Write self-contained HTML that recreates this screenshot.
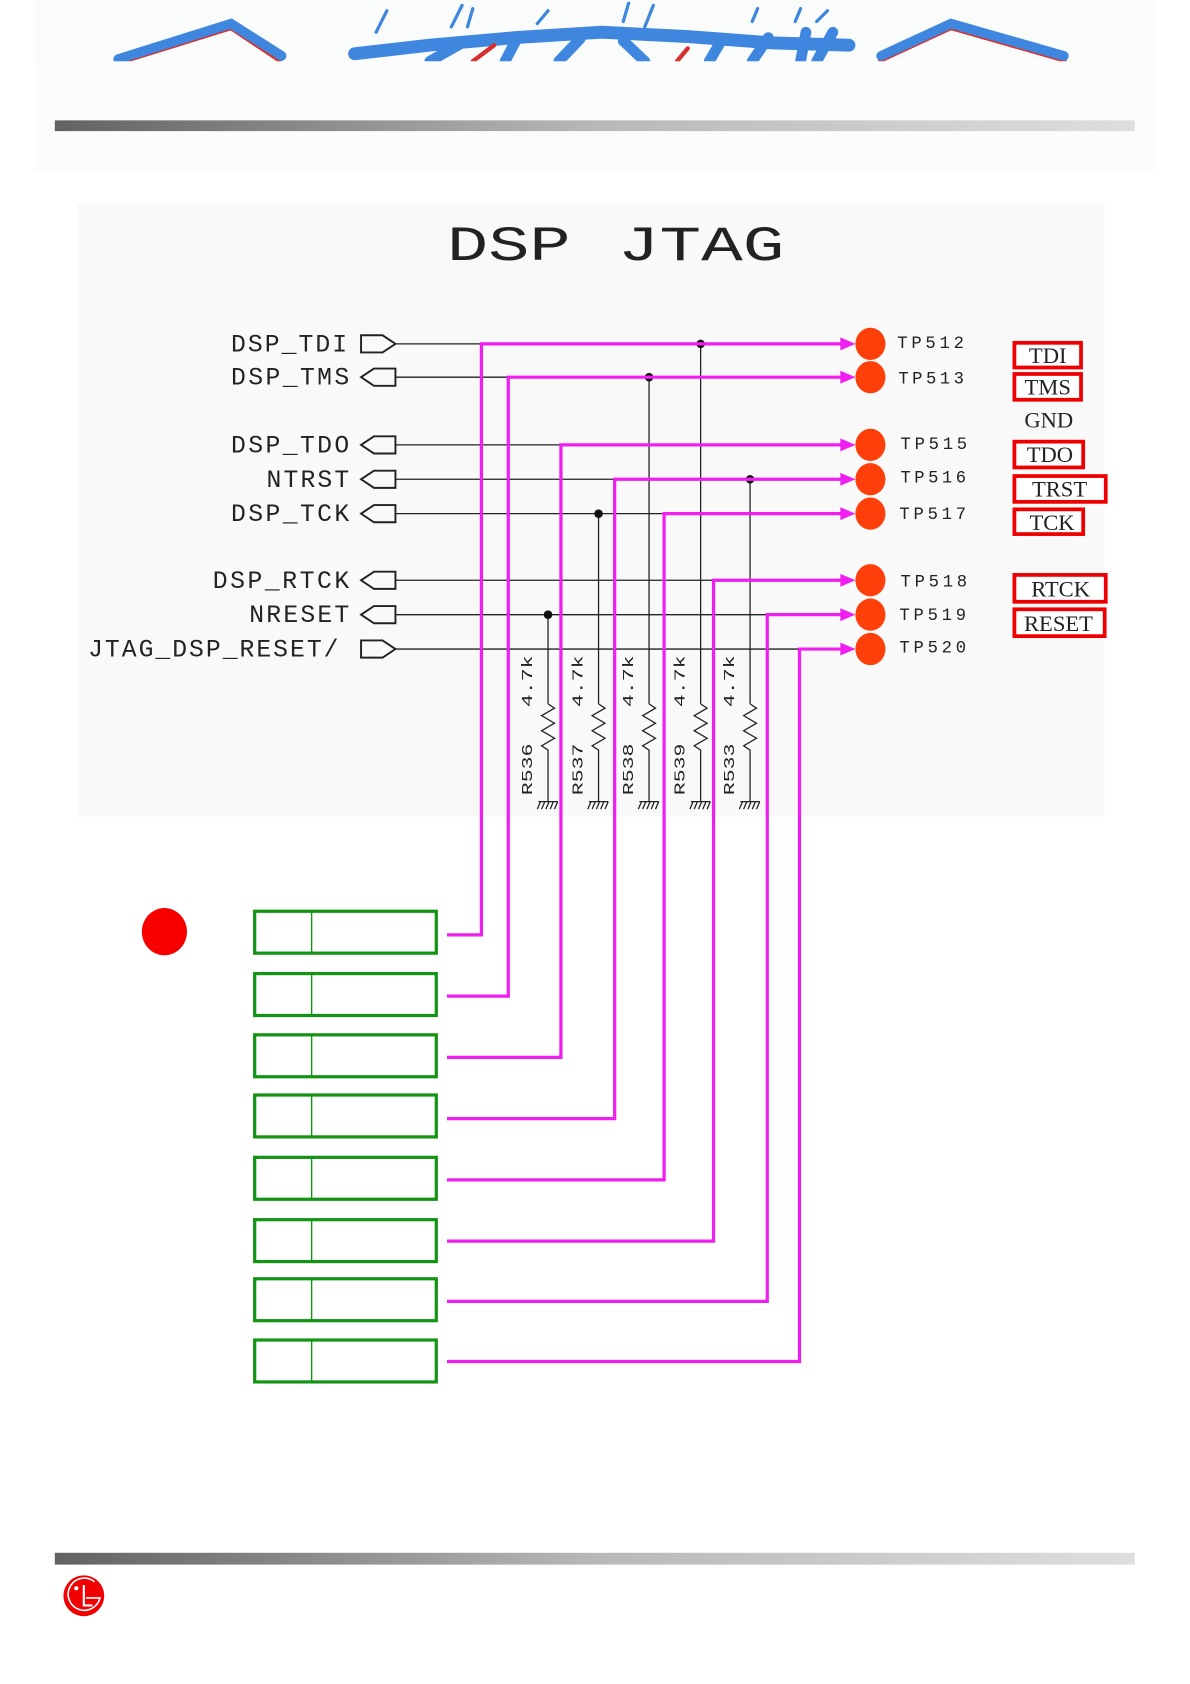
<!DOCTYPE html>
<html><head><meta charset="utf-8"><style>
html,body{margin:0;padding:0;background:#fff;}
svg{display:block;}
text{font-family:"Liberation Mono",monospace;fill:#222;}
</style></head><body>
<svg width="1190" height="1684" viewBox="0 0 1107.4 1567.1" preserveAspectRatio="none" xmlns="http://www.w3.org/2000/svg">
<defs>
<linearGradient id="g" x1="0" x2="1" y1="0" y2="0">
<stop offset="0" stop-color="#626262"/><stop offset="0.5" stop-color="#b8b8b8"/><stop offset="1" stop-color="#dedede"/>
</linearGradient>
</defs>
<rect x="32" y="0" width="1043" height="160" fill="#fafbfb"/>
<g fill="none" stroke-linecap="round">
<path d="M112 57 L215 25 L260 55" stroke="#d8302f" stroke-width="6"/>
<path d="M110 55 L215 22 L262 52" stroke="#3f86de" stroke-width="9"/>
<path d="M820 55 L885 25 L990 55" stroke="#d8302f" stroke-width="6"/>
<path d="M820 52 L885 22 L990 52" stroke="#3f86de" stroke-width="9"/>
<path d="M330 50 L400 42 L480 35 L560 30 L640 34 L720 40 L790 42" stroke="#3f86de" stroke-width="12"/>
<path d="M400 57 L430 40 M470 57 L480 38 M520 57 L540 36 M600 57 L580 38 M660 57 L670 40 M700 57 L715 35 M745 57 L750 30 M760 57 L775 30" stroke="#3f86de" stroke-width="10"/>
<path d="M350 30 L360 10 M420 25 L430 5 M435 25 L440 8 M500 22 L510 10 M580 20 L585 3 M600 25 L608 5 M700 20 L705 8 M740 20 L745 8 M760 20 L770 10" stroke="#3f86de" stroke-width="3"/>
<path d="M440 57 L460 42 M630 57 L640 45" stroke="#d8302f" stroke-width="4"/>
</g>
<rect x="32" y="57" width="1043" height="103" fill="#fcfcfc"/>
<rect x="51" y="112" width="1005" height="10" fill="url(#g)"/>
<rect x="72" y="190" width="956" height="570" fill="#f9f9f9"/>
<text x="416" y="242" font-size="46" textLength="115" lengthAdjust="spacingAndGlyphs" fill="#111">DSP</text>
<text x="575" y="242" font-size="46" textLength="155" lengthAdjust="spacingAndGlyphs" fill="#111">JTAG</text>
<g font-size="23" lengthAdjust="spacingAndGlyphs">
<text x="215" y="327" textLength="108">DSP_TDI</text>
<text x="215" y="358" textLength="110">DSP_TMS</text>
<text x="215" y="421" textLength="110">DSP_TDO</text>
<text x="248" y="453" textLength="77">NTRST</text>
<text x="215" y="485" textLength="110">DSP_TCK</text>
<text x="198" y="547" textLength="127">DSP_RTCK</text>
<text x="232" y="579" textLength="93">NRESET</text>
<text x="82" y="611" textLength="233">JTAG_DSP_RESET/</text>
</g>
<g fill="none" stroke="#222" stroke-width="1.8">
<path d="M336 312 H356 L368 320 L356 328 H336 Z"/>
<path d="M368 343 H348 L336 351 L348 359 H368 Z"/>
<path d="M368 406 H348 L336 414 L348 422 H368 Z"/>
<path d="M368 438 H348 L336 446 L348 454 H368 Z"/>
<path d="M368 470 H348 L336 478 L348 486 H368 Z"/>
<path d="M368 532 H348 L336 540 L348 548 H368 Z"/>
<path d="M368 564 H348 L336 572 L348 580 H368 Z"/>
<path d="M336 596 H356 L368 604 L356 612 H336 Z"/>
</g>
<g stroke="#222" stroke-width="1.2" fill="none">
<path d="M368 320 H795 M368 351 H795 M368 414 H795 M368 446 H795 M368 478 H795 M368 540 H795 M368 572 H795 M368 604 H795"/>
<path d="M510 572 V655 M557 478 V655 M604 351 V655 M652 320 V655 M698 446 V655"/>
<g id="rz">
<path d="M510 655 l6 4 l-12 7 l12 7 l-12 7 l12 7 l-12 7 l6 4 V746 M501 746 H519 M503 746 l-3 7 M507 746 l-3 7 M511 746 l-3 7 M515 746 l-3 7 M519 746 l-3 7"/>
</g>
<use href="#rz" x="47"/><use href="#rz" x="94"/><use href="#rz" x="142"/><use href="#rz" x="188"/>
</g>
<g fill="#111">
<circle cx="652" cy="320" r="4"/><circle cx="604" cy="351" r="4"/><circle cx="698" cy="446" r="4"/><circle cx="557" cy="478" r="4"/><circle cx="510" cy="572" r="4"/>
</g>
<g font-size="14" fill="#333">
<text transform="translate(495,740) rotate(-90)" textLength="48" lengthAdjust="spacingAndGlyphs">R536</text>
<text transform="translate(542,740) rotate(-90)" textLength="48" lengthAdjust="spacingAndGlyphs">R537</text>
<text transform="translate(589,740) rotate(-90)" textLength="48" lengthAdjust="spacingAndGlyphs">R538</text>
<text transform="translate(637,740) rotate(-90)" textLength="48" lengthAdjust="spacingAndGlyphs">R539</text>
<text transform="translate(683,740) rotate(-90)" textLength="48" lengthAdjust="spacingAndGlyphs">R533</text>
<text transform="translate(495,658) rotate(-90)" textLength="48" lengthAdjust="spacingAndGlyphs">4.7k</text>
<text transform="translate(542,658) rotate(-90)" textLength="48" lengthAdjust="spacingAndGlyphs">4.7k</text>
<text transform="translate(589,658) rotate(-90)" textLength="48" lengthAdjust="spacingAndGlyphs">4.7k</text>
<text transform="translate(637,658) rotate(-90)" textLength="48" lengthAdjust="spacingAndGlyphs">4.7k</text>
<text transform="translate(683,658) rotate(-90)" textLength="48" lengthAdjust="spacingAndGlyphs">4.7k</text>
</g>
<g stroke="#f01ef0" stroke-width="3" fill="none">
<path d="M416 870 H448 V320 H788"/>
<path d="M416 927 H473 V351 H788"/>
<path d="M416 984 H522 V414 H788"/>
<path d="M416 1041 H572 V446 H788"/>
<path d="M416 1098 H618 V478 H788"/>
<path d="M416 1155 H664 V540 H788"/>
<path d="M416 1211 H714 V572 H788"/>
<path d="M416 1267 H744 V604 H788"/>
</g>
<g fill="#f01ef0">
<polygon points="782,314 796,320 782,326"/><polygon points="782,345 796,351 782,357"/>
<polygon points="782,408 796,414 782,420"/><polygon points="782,440 796,446 782,452"/>
<polygon points="782,472 796,478 782,484"/><polygon points="782,534 796,540 782,546"/>
<polygon points="782,566 796,572 782,578"/><polygon points="782,598 796,604 782,610"/>
</g>
<g fill="#ff3f0a">
<ellipse cx="810" cy="320" rx="14" ry="15"/><ellipse cx="810" cy="351" rx="14" ry="15"/>
<ellipse cx="810" cy="414" rx="14" ry="15"/><ellipse cx="810" cy="446" rx="14" ry="15"/>
<ellipse cx="810" cy="478" rx="14" ry="15"/><ellipse cx="810" cy="540" rx="14" ry="15"/>
<ellipse cx="810" cy="572" rx="14" ry="15"/><ellipse cx="810" cy="604" rx="14" ry="15"/>
</g>
<g font-size="16" fill="#333" lengthAdjust="spacingAndGlyphs">
<text x="835" y="324" textLength="62">TP512</text>
<text x="836" y="357" textLength="61">TP513</text>
<text x="838" y="418" textLength="62">TP515</text>
<text x="838" y="449" textLength="61">TP516</text>
<text x="837" y="483" textLength="62">TP517</text>
<text x="838" y="546" textLength="62">TP518</text>
<text x="837" y="577" textLength="62">TP519</text>
<text x="837" y="607" textLength="62">TP520</text>
</g>
<g fill="#fff" stroke="#ee0000" stroke-width="3.5">
<rect x="944" y="319" width="62" height="23"/>
<rect x="944" y="348" width="62" height="24"/>
<rect x="944" y="411" width="64" height="24"/>
<rect x="944" y="443" width="85" height="24"/>
<rect x="944" y="474" width="64" height="23"/>
<rect x="944" y="535" width="85" height="25"/>
<rect x="944" y="567" width="84" height="25"/>
</g>
<g font-size="21" fill="#222" text-anchor="middle">
<text x="975" y="338" style="font-family:'Liberation Serif',serif">TDI</text>
<text x="975" y="367" style="font-family:'Liberation Serif',serif">TMS</text>
<text x="976" y="398" style="font-family:'Liberation Serif',serif">GND</text>
<text x="977" y="430" style="font-family:'Liberation Serif',serif">TDO</text>
<text x="986" y="462" style="font-family:'Liberation Serif',serif">TRST</text>
<text x="979" y="493" style="font-family:'Liberation Serif',serif">TCK</text>
<text x="987" y="555" style="font-family:'Liberation Serif',serif">RTCK</text>
<text x="985" y="587" style="font-family:'Liberation Serif',serif">RESET</text>
</g>
<ellipse cx="153" cy="867" rx="21" ry="22" fill="#f80000"/>
<g fill="#fff" stroke="#149414" stroke-width="3">
<rect x="237" y="848" width="169" height="39"/>
<rect x="237" y="906" width="169" height="39"/>
<rect x="237" y="963" width="169" height="39"/>
<rect x="237" y="1019" width="169" height="39"/>
<rect x="237" y="1077" width="169" height="39"/>
<rect x="237" y="1135" width="169" height="39"/>
<rect x="237" y="1190" width="169" height="39"/>
<rect x="237" y="1247" width="169" height="39"/>
</g>
<g stroke="#149414" stroke-width="1.3">
<path d="M290 848 V887 M290 906 V945 M290 963 V1002 M290 1019 V1058 M290 1077 V1116 M290 1135 V1174 M290 1190 V1229 M290 1247 V1286"/>
</g>
<rect x="51" y="1445" width="1005" height="11" fill="url(#g)"/>
<circle cx="78" cy="1485" r="19" fill="#f00000"/>
<path d="M88 1472 A15 15 0 1 0 93 1487 H80" fill="none" stroke="#fff" stroke-width="1.5"/>
<path d="M78 1475 V1494 H86" fill="none" stroke="#fff" stroke-width="2"/>
<circle cx="71" cy="1478" r="2" fill="#fff"/>
</svg>
</body></html>
